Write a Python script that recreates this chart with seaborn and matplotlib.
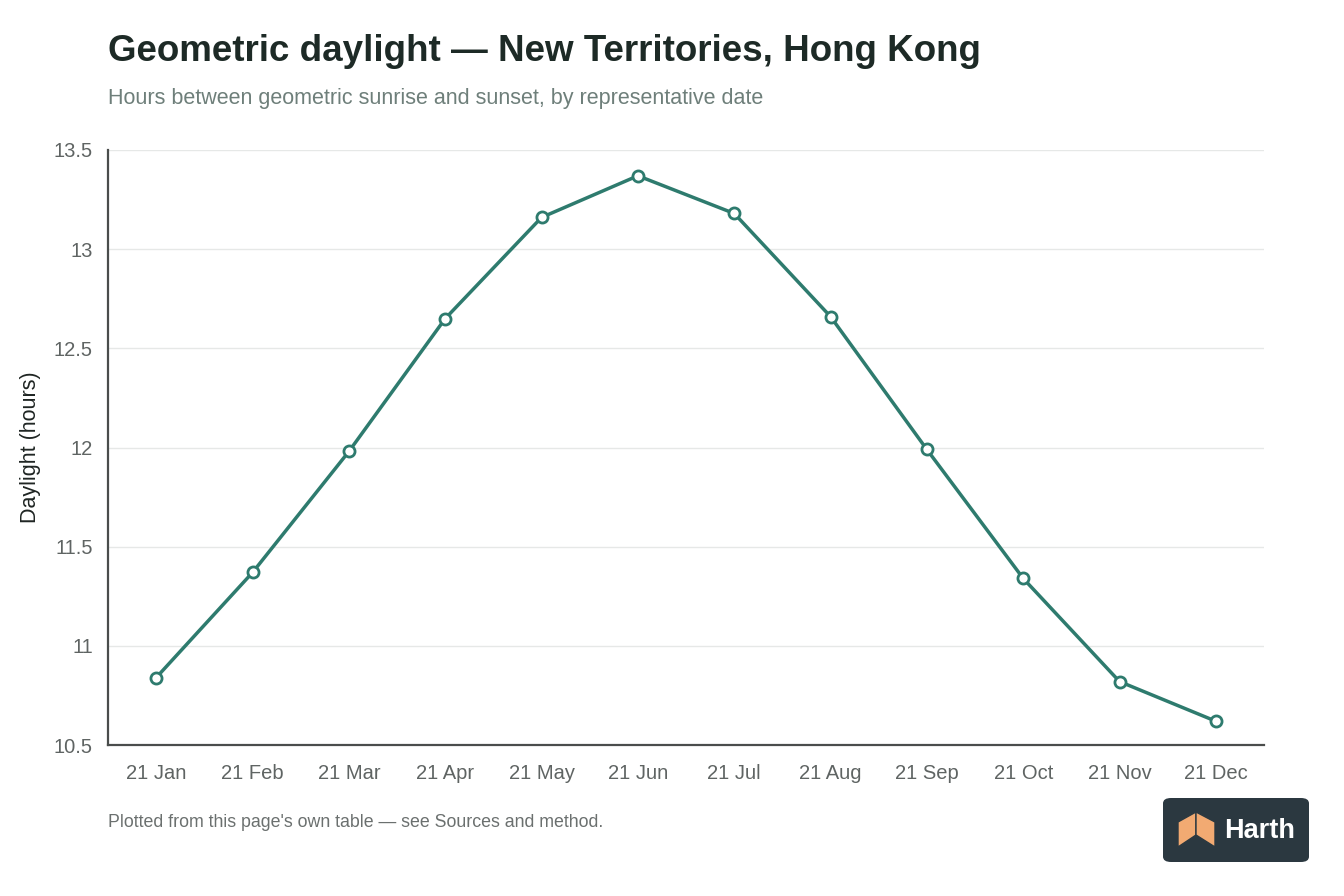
"""
Geometric daylight chart for New Territories, Hong Kong.
"""

import pandas as pd
import matplotlib.pyplot as plt
import seaborn as sns
from matplotlib.patches import FancyBboxPatch, Polygon


DATES: list[str] = [
    "21 Jan", "21 Feb", "21 Mar", "21 Apr", "21 May", "21 Jun",
    "21 Jul", "21 Aug", "21 Sep", "21 Oct", "21 Nov", "21 Dec"
]

DAYLIGHT_HOURS: list[float] = [
    10.84, 11.37, 11.98, 12.65, 13.16, 13.37,
    13.18, 12.66, 11.99, 11.34, 10.82, 10.62
]

Y_TICKS: list[float] = [10.5, 11, 11.5, 12, 12.5, 13, 13.5]
Y_TICK_LABELS: list[str] = ["10.5", "11", "11.5", "12", "12.5", "13", "13.5"]

LINE_COLOR = "#2e7b6e"
FONT = ["Liberation Sans", "DejaVu Sans"]


def main() -> None:
    sns.set_theme(style="white")
    plt.rcParams["font.family"] = FONT

    df = pd.DataFrame({"Date": DATES, "Hours": DAYLIGHT_HOURS})
    df["Pos"] = range(len(df))

    fig = plt.figure(figsize=(13.44, 8.96), dpi=100)
    ax = fig.add_axes([0.0804, 0.1685, 0.8601, 0.6641])

    sns.lineplot(
        data=df, x="Pos", y="Hours", ax=ax,
        color=LINE_COLOR, linewidth=2.5,
        marker="o", markersize=8,
        markerfacecolor="white", markeredgecolor=LINE_COLOR,
        markeredgewidth=2
    )

    ax.set_xlim(-0.5, len(DATES) - 0.5)
    ax.set_ylim(10.5, 13.5)
    ax.set_xticks(df["Pos"])
    ax.set_xticklabels(DATES)
    ax.set_yticks(Y_TICKS)
    ax.set_yticklabels(Y_TICK_LABELS)
    ax.tick_params(axis="both", labelsize=14.5, colors="#5f6463",
                   length=0, pad=11)
    ax.tick_params(axis="x", pad=14)

    ax.grid(axis="y", color="#e6e8e7", linewidth=1)
    ax.set_axisbelow(True)
    for side in ["top", "right"]:
        ax.spines[side].set_visible(False)
    for side in ["left", "bottom"]:
        ax.spines[side].set_color("#4a4d4c")
        ax.spines[side].set_linewidth(1.6)

    ax.set_xlabel("")
    ax.set_ylabel("Daylight (hours)", fontsize=15.5, color="#1f2523",
                  labelpad=9)

    fig.text(0.0804, 0.942, "Geometric daylight \u2014 New Territories, Hong Kong",
             fontsize=26.5, fontweight="bold", color="#1d2a26",
             va="center", ha="left")
    fig.text(0.0804, 0.890,
             "Hours between geometric sunrise and sunset, by representative date",
             fontsize=15.5, color="#6e7f7a", va="center", ha="left")
    fig.text(0.0804, 0.082,
             "Plotted from this page's own table \u2014 see Sources and method.",
             fontsize=12.8, color="#6b706f", va="center", ha="left")

    # Logo badge
    W, H = 1344, 896
    badge = FancyBboxPatch(
        (1163 / W, 1 - 862 / H), 146 / W, 64 / H,
        boxstyle="round,pad=0,rounding_size=0.006",
        transform=fig.transFigure, facecolor="#2b3840",
        edgecolor="none"
    )
    fig.patches.append(badge)
    cube_left = Polygon(
        [(1178 / W, 1 - 822 / H), (1196 / W, 1 - 812 / H),
         (1196 / W, 1 - 835 / H), (1178 / W, 1 - 847 / H)],
        closed=True, transform=fig.transFigure,
        facecolor="#f2aa72", edgecolor="#2b3840", linewidth=1
    )
    cube_right = Polygon(
        [(1196 / W, 1 - 812 / H), (1215 / W, 1 - 822 / H),
         (1215 / W, 1 - 847 / H), (1196 / W, 1 - 835 / H)],
        closed=True, transform=fig.transFigure,
        facecolor="#f2aa72", edgecolor="#2b3840", linewidth=1
    )
    fig.patches.append(cube_left)
    fig.patches.append(cube_right)
    fig.text(1224 / W, 1 - 831 / H, "Harth", fontsize=19.5,
             fontweight="bold", color="white", va="center", ha="left")

    fig.savefig("out.png", dpi=100, facecolor="white")


if __name__ == "__main__":
    main()
